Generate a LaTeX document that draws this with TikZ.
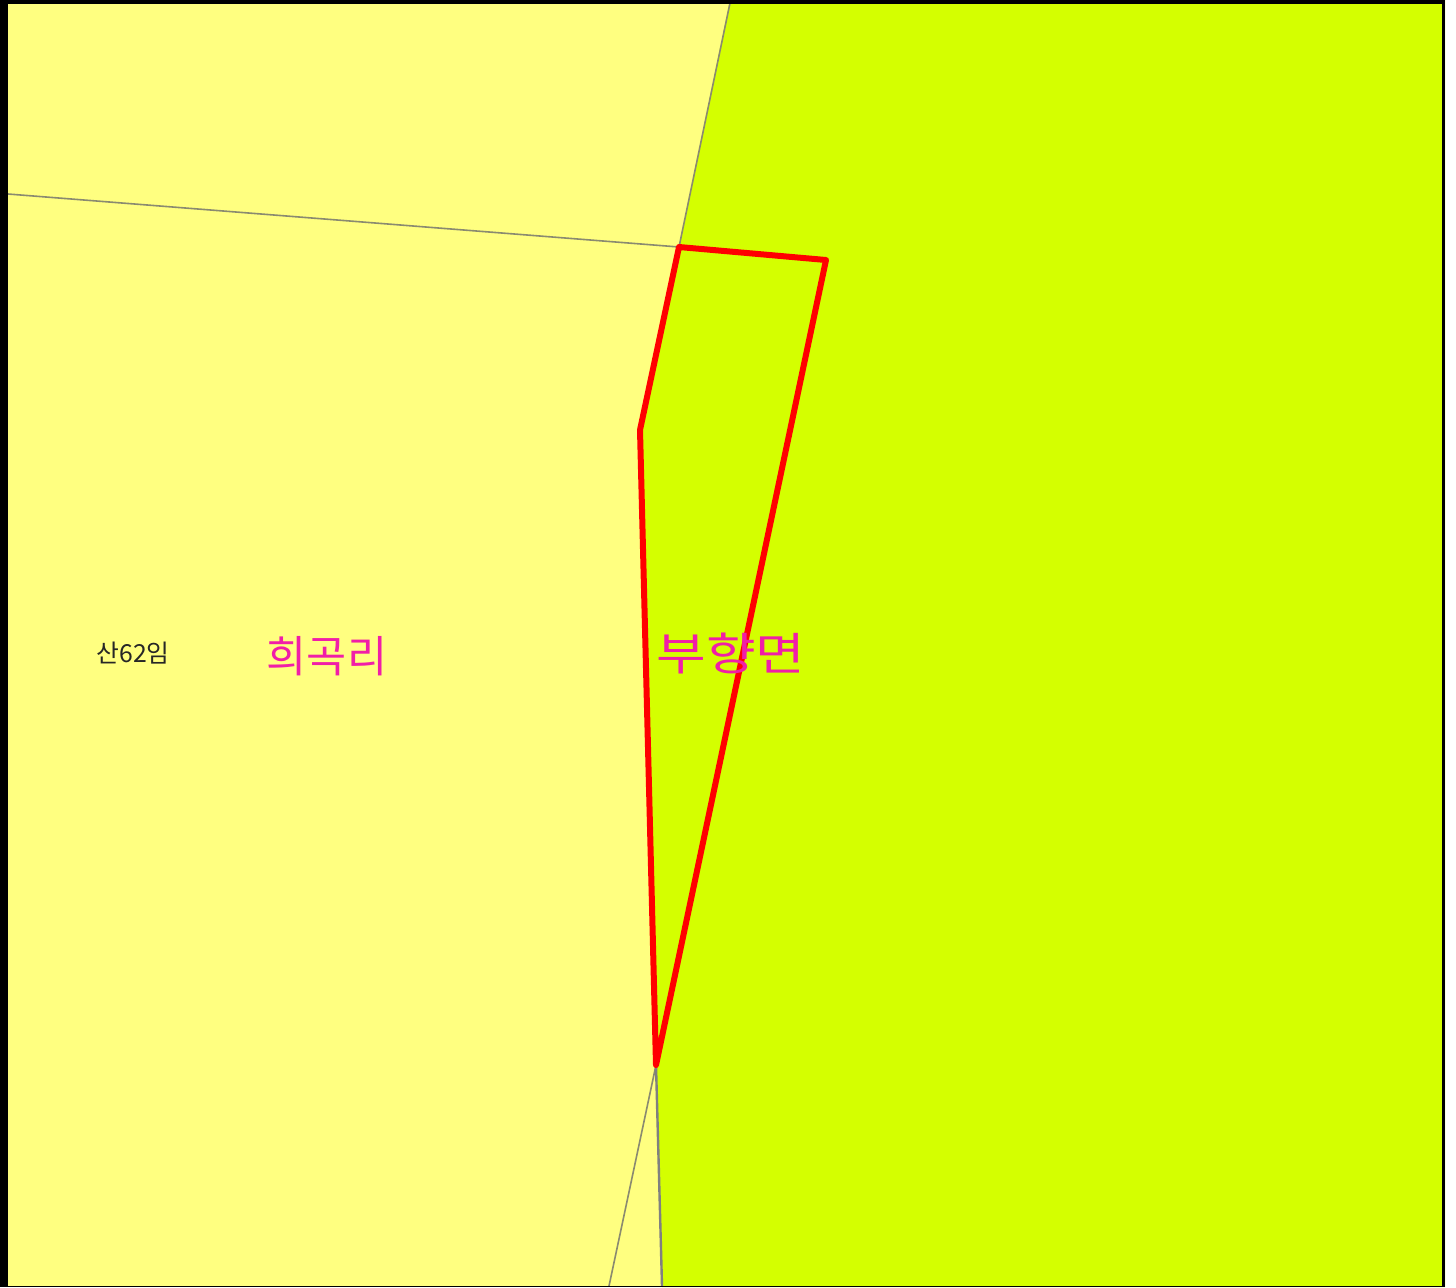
\documentclass[tikz,border=0pt]{standalone}
\usepackage{fontspec}
\newfontfamily\krfont{Noto Sans CJK KR}
\definecolor{paleyellow}{HTML}{FFFF80}
\definecolor{limeland}{HTML}{D4FF00}
\definecolor{parcelred}{HTML}{FF0000}
\definecolor{labelpink}{HTML}{F01EA8}
\definecolor{boundarygray}{HTML}{8A8A70}
\tikzset{
  boundary/.style={draw=boundarygray,line width=0.8pt},
  parcel/.style={draw=parcelred,line width=3pt,line join=round},
  placename/.style={text=labelpink,inner sep=0pt,font=\krfont\fontsize{21.8}{22}\selectfont},
  lotname/.style={text=black!85,inner sep=0pt,font=\krfont\fontsize{12.4}{13}\selectfont}
}
\begin{document}
\begin{tikzpicture}[x=0.5pt,y=-0.5pt]
\useasboundingbox (0,0) rectangle (1456,1287);
\fill[white] (0,0) rectangle (1456,1287);
\fill[paleyellow] (0,0) rectangle (1445,1287);
\fill[limeland] (730,0) -- (679,247) -- (640,430) -- (656,1065) -- (662,1287) -- (1445,1287) -- (1445,0) -- cycle;
\coordinate (top) at (730,3);
\coordinate (west) at (8,194);
\coordinate (nw) at (679,247);
\coordinate (ne) at (826,260);
\coordinate (bend) at (640,430);
\coordinate (tip) at (656,1065);
\coordinate (sw) at (609,1286);
\coordinate (se) at (662,1286);
\draw[boundary] (top) -- (nw);
\draw[boundary] (west) -- (nw);
\draw[boundary] (tip) -- (sw);
\draw[boundary,draw=gray,line width=1.2pt] (tip) -- (se);
\draw[parcel] (nw) -- (ne) -- (tip) -- (bend) -- cycle;
\node[lotname] (lot) at (133,653.5) {산62임};
\node[placename] (ri) at (327,656) {희곡리};
\node[placename,xscale=1.2,font=\krfont\fontsize{22.5}{23}\selectfont] (myeon) at (731,653.5) {부향면};
\fill[black] (0,0) rectangle (1445,4);
\fill[black] (0,0) rectangle (7.5,1287);
\fill[black] (1442,0) rectangle (1445,1287);
\fill[black] (0,1285.5) rectangle (1445,1287);
\end{tikzpicture}
\end{document}
